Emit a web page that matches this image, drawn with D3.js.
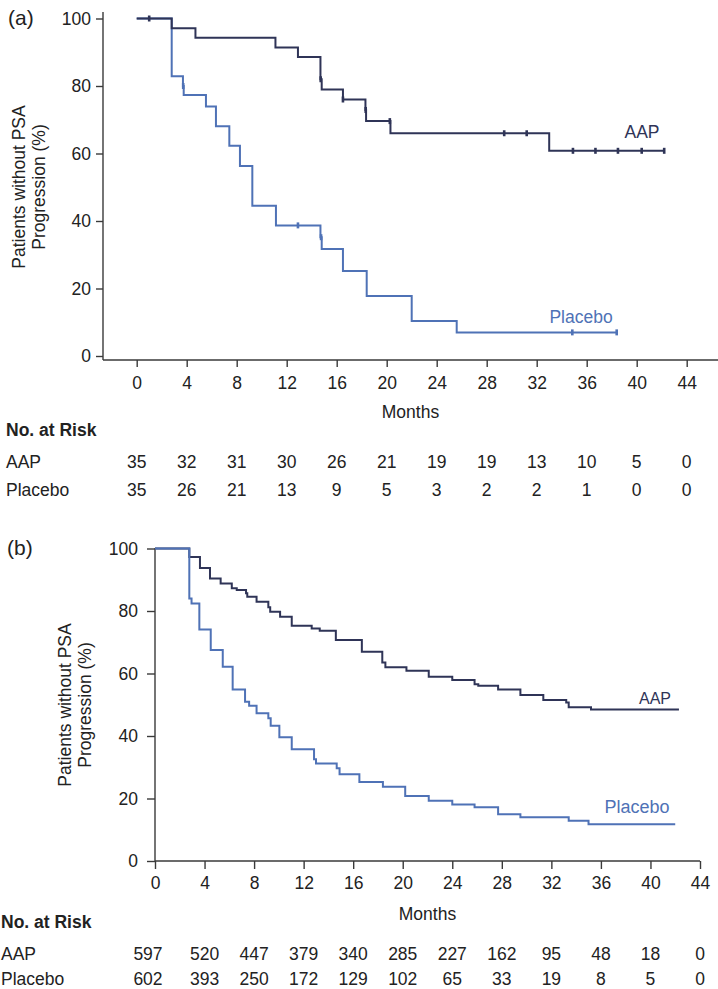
<!DOCTYPE html>
<html>
<head>
<meta charset="utf-8">
<script src="https://cdn.jsdelivr.net/npm/d3@7/dist/d3.min.js"></script>
<style>
  html, body { margin: 0; padding: 0; background: #fff; }
  svg { display: block; }
  text { font-family: "Liberation Sans", Arial, Helvetica, sans-serif; }
</style>
</head>
<body>
<svg id="chart" width="718" height="989"></svg>
<script>
// ---------------- DATA ----------------
const monthTicks = [0, 4, 8, 12, 16, 20, 24, 28, 32, 36, 40, 44];
const yTicks = [0, 20, 40, 60, 80, 100];
const seriesNames = ["AAP", "Placebo"];

// Panel (a): events [month, % without progression]
const aAAPEvents = [[2.8, 97.1], [4.7, 94.3], [11.1, 91.4], [12.9, 88.6], [14.7, 82.0], [14.8, 79.0],
  [16.5, 76.0], [18.3, 72.9], [18.35, 69.6], [20.3, 66.0], [33.0, 60.8]];
const aAAPEnd = 42.2;
const aAAPCensor = [1.0, 14.72, 16.5, 18.32, 20.25, 29.4, 31.2, 34.9, 36.7, 38.5, 40.4, 42.2];

const aPlaceboEvents = [[2.8, 82.9], [3.7, 80.0], [3.76, 77.3], [5.54, 73.9], [6.34, 68.1], [7.41, 62.3],
  [8.26, 56.3], [9.25, 44.5], [11.14, 38.7], [14.7, 35.2], [14.8, 31.7], [16.5, 25.2], [18.4, 17.8],
  [22.0, 10.4], [25.6, 7.0]];
const aPlaceboEnd = 38.4;
const aPlaceboCensor = [3.72, 12.9, 14.75, 34.85, 38.4];

const aRiskAAP = [35, 32, 31, 30, 26, 21, 19, 19, 13, 10, 5, 0];
const aRiskPlacebo = [35, 26, 21, 13, 9, 5, 3, 2, 2, 1, 0, 0];

// Panel (b)
const bAAPEvents = [[2.77, 97.3], [3.63, 93.8], [4.44, 90.4], [5.3, 88.8], [6.2, 87.3], [6.6, 86.7],
  [7.35, 85.7], [7.45, 84.6], [8.2, 83.0], [9.15, 81.2], [9.3, 79.8], [10.1, 78.2], [11.04, 75.3],
  [12.65, 74.4], [13.3, 73.7], [14.6, 70.7], [16.7, 67.0], [18.35, 63.5], [18.6, 62.0], [20.3, 60.9],
  [22.1, 59.0], [24.0, 57.9], [25.8, 56.6], [26.1, 56.1], [27.7, 54.9], [29.5, 53.1], [31.35, 51.5],
  [33.2, 50.7], [33.4, 49.2], [35.2, 48.5]];
const bAAPEnd = 42.3;

const bPlaceboEvents = [[2.77, 84.0], [2.95, 82.4], [3.58, 74.1], [4.5, 67.5], [5.47, 62.2], [6.27, 54.9],
  [7.27, 51.0], [7.6, 49.7], [8.2, 47.3], [9.15, 45.7], [9.34, 43.3], [10.04, 39.6], [11.04, 35.8],
  [12.84, 32.6], [13.0, 31.2], [14.67, 29.7], [14.9, 27.8], [16.5, 25.3], [18.4, 23.8], [20.2, 20.8],
  [22.1, 19.3], [24.0, 18.1], [25.8, 17.2], [27.7, 15.0], [29.5, 14.0], [33.4, 12.9], [35.0, 11.8]];
const bPlaceboEnd = 42.0;

const bRiskAAP = [597, 520, 447, 379, 340, 285, 227, 162, 95, 48, 18, 0];
const bRiskPlacebo = [602, 393, 250, 172, 129, 102, 65, 33, 19, 8, 5, 0];

// ---------------- STYLE ----------------
const colAAP = "#2f3457";
const colPlacebo = "#4f72b6";
const axisCol = "#3a3a3a";
const textCol = "#222";
const fs = 17.5;

const svg = d3.select("#chart");

function stepPoints(events, end) {
  const pts = [[0, 100]];
  let cur = 100;
  events.forEach(([t, s]) => { pts.push([t, cur]); pts.push([t, s]); cur = s; });
  pts.push([end, cur]);
  return pts;
}
function survAt(events, t) {
  let cur = 100;
  events.forEach(([et, s]) => { if (et <= t) cur = s; });
  return cur;
}

function panel(cfg) {
  const g = svg.append("g");
  const x = d3.scaleLinear().domain([0, 44]).range(cfg.xRange);
  const y = d3.scaleLinear().domain([0, 100]).range(cfg.yRange);

  g.append("line").attr("x1", cfg.yAxisX).attr("x2", cfg.yAxisX)
    .attr("y1", cfg.yAxisTop).attr("y2", cfg.xAxisY)
    .attr("stroke", axisCol).attr("stroke-width", 1.4);
  g.append("line").attr("x1", cfg.yAxisX).attr("x2", cfg.xAxisEnd)
    .attr("y1", cfg.xAxisY).attr("y2", cfg.xAxisY)
    .attr("stroke", axisCol).attr("stroke-width", 1.4);

  const yAx = g.append("g").attr("transform", `translate(${cfg.yAxisX},0)`)
    .call(d3.axisLeft(y).tickValues(yTicks).tickSize(cfg.yTickSize).tickPadding(cfg.yTickPad).tickSizeOuter(0));
  yAx.select(".domain").remove();
  yAx.selectAll("line").attr("stroke", axisCol).attr("stroke-width", 1.4);
  yAx.selectAll("text").attr("fill", textCol).style("font-size", fs + "px")
    .style("font-family", '"Liberation Sans", Arial, sans-serif');

  const xAx = g.append("g").attr("transform", `translate(0,${cfg.xAxisY})`)
    .call(d3.axisBottom(x).tickValues(monthTicks).tickSize(cfg.xTickSize).tickSizeOuter(0));
  xAx.select(".domain").remove();
  xAx.selectAll("line").attr("stroke", axisCol).attr("stroke-width", 1.4);
  xAx.selectAll("text").attr("fill", textCol).attr("y", cfg.xLabelOffset).attr("dy", "0.35em")
    .style("font-size", fs + "px").style("font-family", '"Liberation Sans", Arial, sans-serif');

  g.append("text").attr("x", (cfg.yAxisX + cfg.xAxisEnd) / 2).attr("y", cfg.monthsY)
    .attr("dy", "0.35em").attr("text-anchor", "middle").attr("fill", textCol)
    .style("font-size", fs + "px").text("Months");

  const yl = g.append("text").attr("text-anchor", "middle").attr("fill", textCol)
    .style("font-size", fs + "px")
    .attr("transform", `translate(${cfg.yLabelX},${cfg.yLabelY}) rotate(-90)`);
  yl.append("tspan").attr("x", 0).attr("dy", "0.35em").text("Patients without PSA");
  yl.append("tspan").attr("x", 0).attr("dy", cfg.yLabelGap).text("Progression (%)");

  g.append("text").attr("x", cfg.letterX).attr("y", cfg.letterY).attr("dy", "0.35em")
    .attr("fill", textCol).style("font-size", "21px").text(cfg.letter);

  const line = d3.line().x(d => x(d[0])).y(d => y(d[1]));
  cfg.curves.forEach(c => {
    g.append("path").datum(stepPoints(c.events, c.end)).attr("d", line)
      .attr("fill", "none").attr("stroke", c.color).attr("stroke-width", cfg.lw)
      .attr("stroke-linejoin", "miter");
    (c.censor || []).forEach(t => {
      const v = survAt(c.events, t);
      g.append("line").attr("x1", x(t)).attr("x2", x(t))
        .attr("y1", y(v) - 3).attr("y2", y(v) + 3)
        .attr("stroke", c.color).attr("stroke-width", 2.6);
    });
    g.append("text").attr("x", c.labelX).attr("y", c.labelY).attr("dy", "0.35em")
      .attr("text-anchor", "middle").attr("fill", c.color)
      .style("font-size", c.labelSize + "px").text(c.name);
  });

  g.append("text").attr("x", cfg.riskLabelX).attr("y", cfg.riskHeadY).attr("dy", "0.35em")
    .attr("fill", textCol).style("font-size", fs + "px").style("font-weight", "bold").text("No. at Risk");
  cfg.riskRows.forEach(r => {
    g.append("text").attr("x", cfg.riskLabelX).attr("y", r.y).attr("dy", "0.35em")
      .attr("fill", textCol).style("font-size", fs + "px").text(r.name);
    g.selectAll(null).data(r.values).enter().append("text")
      .attr("x", (d, i) => x(monthTicks[i]) + (i === 0 ? cfg.firstColShift : 0))
      .attr("y", r.y).attr("dy", "0.35em").attr("text-anchor", "middle")
      .attr("fill", textCol).style("font-size", fs + "px").text(d => d);
  });
}

panel({
  letter: "(a)", letterX: 8, letterY: 18,
  xRange: [136.7, 686.7], yRange: [356, 18.5],
  yAxisX: 103, yAxisTop: 12, xAxisY: 360, xAxisEnd: 718,
  yTickSize: 7, yTickPad: 5, xTickSize: 7, xLabelOffset: 23,
  monthsY: 412, yLabelX: 19, yLabelY: 187, yLabelGap: 19.5,
  lw: 2,
  curves: [
    { name: seriesNames[1], events: aPlaceboEvents, end: aPlaceboEnd, censor: aPlaceboCensor,
      color: colPlacebo, labelX: 581, labelY: 317, labelSize: 17.5 },
    { name: seriesNames[0], events: aAAPEvents, end: aAAPEnd, censor: aAAPCensor,
      color: colAAP, labelX: 642, labelY: 132, labelSize: 17.5 }
  ],
  riskLabelX: 6, riskHeadY: 430, firstColShift: 0,
  riskRows: [
    { name: seriesNames[0], y: 462, values: aRiskAAP },
    { name: seriesNames[1], y: 490, values: aRiskPlacebo }
  ]
});

panel({
  letter: "(b)", letterX: 7, letterY: 548,
  xRange: [155, 700], yRange: [861, 548.5],
  yAxisX: 155, yAxisTop: 548, xAxisY: 861, xAxisEnd: 700,
  yTickSize: 8, yTickPad: 9, xTickSize: 8, xLabelOffset: 22,
  monthsY: 914, yLabelX: 65, yLabelY: 705, yLabelGap: 19.5,
  lw: 2,
  curves: [
    { name: seriesNames[0], events: bAAPEvents, end: bAAPEnd, censor: [],
      color: colAAP, labelX: 655, labelY: 698, labelSize: 16 },
    { name: seriesNames[1], events: bPlaceboEvents, end: bPlaceboEnd, censor: [],
      color: colPlacebo, labelX: 637, labelY: 807, labelSize: 18 }
  ],
  riskLabelX: 1, riskHeadY: 922, firstColShift: -7,
  riskRows: [
    { name: seriesNames[0], y: 954, values: bRiskAAP },
    { name: seriesNames[1], y: 979, values: bRiskPlacebo }
  ]
});
</script>
</body>
</html>
